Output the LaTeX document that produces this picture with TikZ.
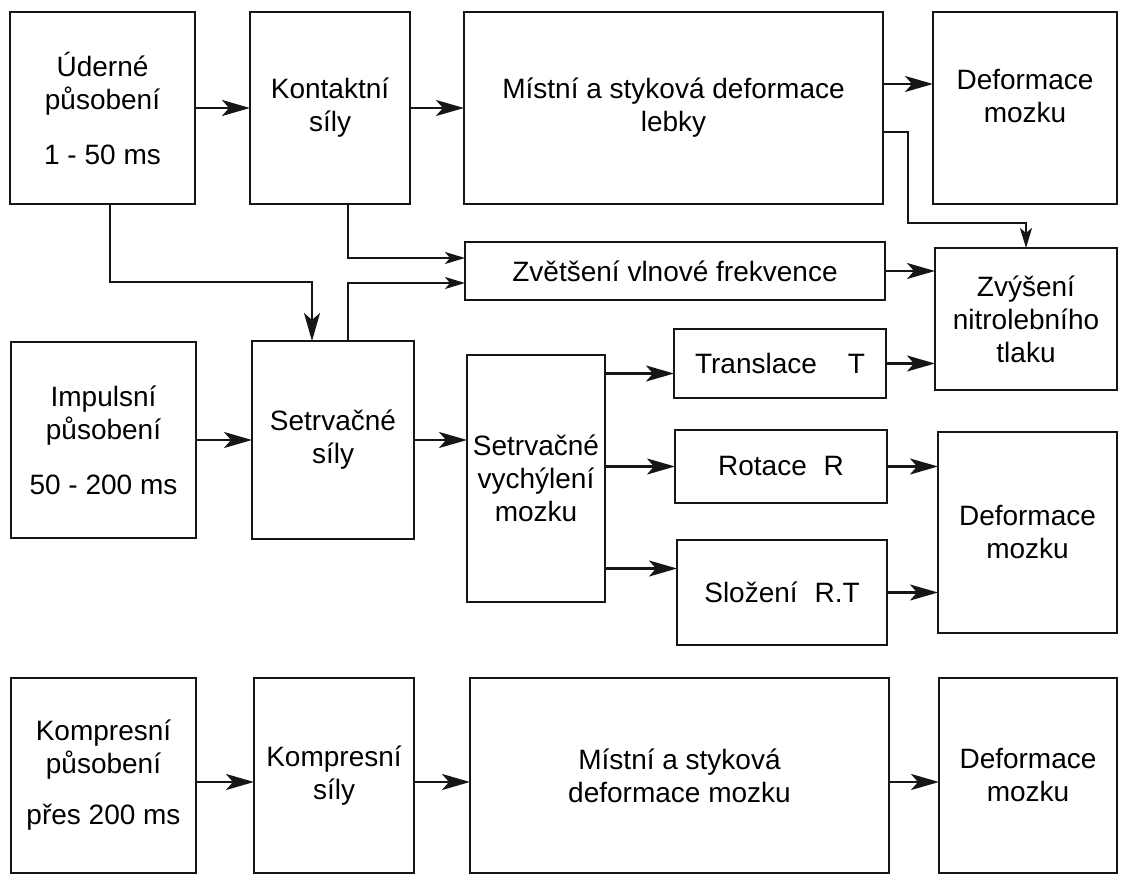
\documentclass[tikz,border=0pt]{standalone}
\usepackage{fontspec}
\setmainfont{Liberation Sans}
\usepackage{tikz}
\usetikzlibrary{arrows.meta, positioning, calc}
\definecolor{colInk}{HTML}{161616}
\tikzset{
  block/.style={
    draw=colInk, line width=1.4pt, outer sep=0pt,
    align=center, inner sep=2pt,
    font=\fontsize{14}{16.5}\selectfont
  },
  toprow/.style ={block, minimum height=96pt},
  lowrow/.style ={block, minimum height=97.5pt},
  mainarr/.style={
    -{Stealth[length=14pt,width=8pt,inset=3.5pt]},
    line width=1.2pt, draw=colInk
  },
  thinarr/.style={
    -{Stealth[length=10pt,width=6pt,inset=2.5pt]},
    line width=1pt, draw=colInk
  }
}

\begin{document}
\begin{tikzpicture}[x=0.5pt, y=-0.5pt]
  \useasboundingbox (0,0) rectangle (1121,877);

  %% ── Row 1: impact loading ──────────────────────────────────────
  \node[toprow, minimum width=92.5pt] (uder) at (102.5,108)
    {Úderné\\působení\\[11pt]1 - 50 ms};
  \node[toprow, minimum width=80pt, right=27.5pt of uder] (kont)
    {Kontaktní\\síly};
  \node[toprow, minimum width=209.5pt, right=27pt of kont] (lebka)
    {Místní a styková deformace\\lebky};
  \node[toprow, minimum width=92pt, right=25pt of lebka] (mozekA)
    {Deformace\\mozku\\[-4.5pt]\mbox{}};

  %% ── Row 2: wave frequency / pressure ───────────────────────────
  \node[block, minimum width=210pt, minimum height=29pt] (wave) at (675,271)
    {Zvětšení vlnové frekvence};
  \node[block, minimum width=91pt, minimum height=71pt] (nitro) at (1026,319)
    {Zvýšení\\nitrolebního\\tlaku};

  %% ── Row 3: impulse loading ─────────────────────────────────────
  \node[block, minimum width=92.5pt, minimum height=98pt] (impuls) at (103.5,440)
    {Impulsní\\působení\\[11pt]50 - 200 ms};
  \node[block, minimum width=81pt, minimum height=99pt, right=28pt of impuls] (setr)
    {Setrvačné\\síly};
  \node[block, minimum width=69pt, minimum height=123.5pt] (inert) at (536,478.5)
    {Setrvačné\\vychýlení\\mozku};
  \node[block, minimum width=106pt, minimum height=34.5pt] (trans) at (780,363.5)
    {Translace\hspace{1.1em}T};
  \node[block, minimum width=106pt, minimum height=36.5pt] (rot) at (781,466.5)
    {Rotace\hspace{0.6em}R};
  \node[block, minimum width=105pt, minimum height=52.5pt] (comp) at (782,592.5)
    {Složení\hspace{0.6em}R.T};
  \node[block, minimum width=89.5pt, minimum height=100.5pt] (mozekB) at (1027.5,532.5)
    {Deformace\\mozku};

  %% ── Row 4: compression loading ─────────────────────────────────
  \node[lowrow, minimum width=92.5pt] (komp) at (103.5,775.5)
    {Kompresní\\působení\\[9pt]přes 200 ms};
  \node[lowrow, minimum width=80pt, right=29pt of komp] (ksily)
    {Kompresní\\síly};
  \node[lowrow, minimum width=209.5pt, right=28pt of ksily] (mozek)
    {Místní a styková\\deformace mozku};
  \node[lowrow, minimum width=89pt, right=25pt of mozek] (mozekC)
    {Deformace\\mozku};

  %% ── Row 1 arrows ───────────────────────────────────────────────
  \draw[mainarr] (uder.east) -- (uder.east -| kont.west);
  \draw[mainarr] (kont.east) -- (kont.east -| lebka.west);
  \draw[mainarr] ([yshift=12pt]lebka.east) -- ([yshift=12pt]lebka.east -| mozekA.west);
  \draw[thinarr] ([yshift=-12pt]lebka.east) -- ++(12.5pt,0)
    |- ([yshift=12.5pt]nitro.north) -- (nitro.north);

  % feeds into the wave box and the inertia box
  \draw[thinarr] ([xshift=9pt]kont.south) |- ([yshift=6.5pt]wave.west);
  \draw[thinarr] ([xshift=7.5pt]setr.north) |- ([yshift=-6pt]wave.west);
  \draw[mainarr] ([xshift=3.75pt]uder.south)
    |- ([xshift=-10.5pt,yshift=29.5pt]setr.north) -- ([xshift=-10.5pt]setr.north);
  \draw[mainarr] (wave.east) -- (wave.east -| nitro.west);

  %% ── Row 3 arrows ───────────────────────────────────────────────
  \draw[mainarr] (impuls.east) -- (impuls.east -| setr.west);
  \draw[mainarr] (setr.east) -- (setr.east -| inert.west);
  \draw[mainarr] ([yshift=-5pt]trans.west -| inert.east) -- ([yshift=-5pt]trans.west);
  \draw[mainarr] (rot.west -| inert.east) -- (rot.west);
  \draw[mainarr] ([yshift=12pt]comp.west -| inert.east) -- ([yshift=12pt]comp.west);
  \draw[mainarr] (trans.east) -- (trans.east -| nitro.west);
  \draw[mainarr] (rot.east) -- (rot.east -| mozekB.west);
  \draw[mainarr] (comp.east) -- (comp.east -| mozekB.west);

  %% ── Row 4 arrows ───────────────────────────────────────────────
  \draw[mainarr] ([yshift=-3.25pt]komp.east) -- ([yshift=-3.25pt]komp.east -| ksily.west);
  \draw[mainarr] ([yshift=-3.25pt]ksily.east) -- ([yshift=-3.25pt]ksily.east -| mozek.west);
  \draw[mainarr] ([yshift=-3.25pt]mozek.east) -- ([yshift=-3.25pt]mozek.east -| mozekC.west);
\end{tikzpicture}
\end{document}
